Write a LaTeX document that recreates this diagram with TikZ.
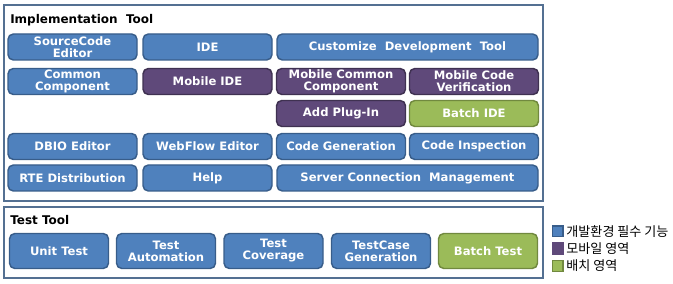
\documentclass[tikz,border=0pt]{standalone}
\usepackage{fontspec}
\setmainfont{DejaVu Sans}
\newfontfamily\krfont{Noto Sans CJK KR}
\usepackage{tikz}
\usetikzlibrary{positioning}

\definecolor{basefill}{RGB}{79,129,189}
\definecolor{basedraw}{RGB}{56,93,138}
\definecolor{mobfill}{RGB}{95,73,122}
\definecolor{mobdraw}{RGB}{63,49,81}
\definecolor{batchfill}{RGB}{155,187,89}
\definecolor{batchdraw}{RGB}{113,137,63}
\definecolor{framedraw}{RGB}{84,112,146}

\begin{document}
\begin{tikzpicture}[x=0.75pt, y=-0.75pt,
    frame/.style={rectangle, draw=framedraw, line width=1.5pt, inner sep=0pt},
    tool/.style={rectangle, rounded corners=4pt, line width=1.1pt, inner sep=0pt,
      minimum height=19.5pt, align=center, text=white,
      font=\fontsize{8.7}{9}\selectfont\bfseries},
    base/.style={tool, fill=basefill, draw=basedraw},
    mob/.style={tool, fill=mobfill, draw=mobdraw},
    batch/.style={tool, fill=batchfill, draw=batchdraw},
    small/.style={minimum width=96.75pt},
    wide/.style={minimum width=195.75pt},
    test/.style={minimum width=74.25pt, minimum height=26.25pt},
    title/.style={anchor=west, inner sep=0pt, font=\fontsize{9}{10}\selectfont\bfseries},
    key/.style={rectangle, minimum size=8pt, inner sep=0pt, line width=1pt},
    keytext/.style={anchor=west, inner sep=0pt, font=\krfont\fontsize{9.8}{10}\selectfont},
  ]
    \useasboundingbox (0,0) rectangle (673,284);
    % frames
    \node[frame, minimum width=404.25pt, minimum height=147pt] (impl) at (273.5,103) {};
    \node[frame, minimum width=404.25pt, minimum height=53.25pt] (testf) at (273.5,242.5) {};
    \node[title] (impltitle) at (10,20) {Implementation\ \ Tool};
    \node[title] (testtitle) at (10,220) {Test Tool};
    % implementation tools
    \node[base, small]  (srcedit) at (72.5,47)    {SourceCode\\Editor};
    \node[base, small]  (ide)     at (207.5,47)   {IDE};
    \node[base, wide]   (custom)  at (407.5,47)   {Customize\ \ Development\ \ Tool};
    \node[base, small]  (common)  at (72.5,81.5)  {Common\\Component};
    \node[mob, small]   (mobide)  at (207.5,81.5) {Mobile IDE};
    \node[mob, small]   (mobcomm) at (341,81.5)   {Mobile Common\\Component};
    \node[mob, small]   (mobver)  at (474,81.5)   {Mobile Code\\Verification};
    \node[mob, small]   (plugin)  at (341,113.5)  {Add Plug-In};
    \node[batch, small] (batchide) at (474,113.5) {Batch IDE};
    \node[base, small]  (dbio)    at (72.5,146.5) {DBIO Editor};
    \node[base, small]  (webflow) at (207.5,146.5) {WebFlow Editor};
    \node[base, small]  (codegen) at (341,146.5)  {Code Generation};
    \node[base, small]  (codeins) at (474,146.5)  {Code Inspection};
    \node[base, small]  (rte)     at (72.5,178)   {RTE Distribution};
    \node[base, small]  (help)    at (207.5,178)  {Help};
    \node[base, wide]   (server)  at (407.5,178)  {Server Connection\ \ Management};
    % test tools
    \node[base, test]  (unit)    at (59,251)    {Unit Test};
    \node[base, test]  (autom)   at (166,251)   {Test\\Automation};
    \node[base, test]  (cover)   at (273.5,251) {Test\\Coverage};
    \node[base, test]  (tcgen)   at (381,251)   {TestCase\\Generation};
    \node[batch, test] (batchtest) at (488,251) {Batch Test};
    % legend
    \node[key, fill=basefill, draw=basedraw]   (keybase)  at (557.5,231.5) {};
    \node[key, fill=mobfill, draw=mobfill]     (keymob)   at (557.5,248.5) {};
    \node[key, fill=batchfill, draw=batchdraw] (keybatch) at (557.5,266)   {};
    \node[keytext, right=2pt of keybase]  {개발환경 필수 기능};
    \node[keytext, right=2pt of keymob]   {모바일 영역};
    \node[keytext, right=2pt of keybatch] {배치 영역};
\end{tikzpicture}
\end{document}
